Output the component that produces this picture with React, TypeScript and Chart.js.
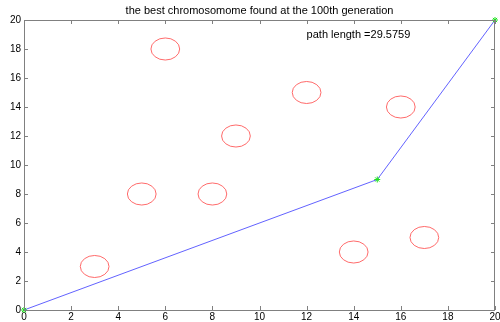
import { useEffect, useRef } from "react";
import { Chart, registerables } from "chart.js";
Chart.register(...registerables);

const TITLE = "the best chromosomome found at the 100th generation";
const PATH_LABEL = "path length =29.5759";
const labelX = 12;
const labelY = 19;
const pathX = [0, 15, 20];
const pathY = [0, 9, 20];
const obstacleX = [3, 5, 6, 8, 9, 12, 14, 16, 17];
const obstacleY = [3, 8, 18, 8, 12, 15, 4, 14, 5];
const obstacleRx = 0.61;
const obstacleRy = 0.76;
const axisMin = 0;
const axisMax = 20;
const tickStep = 2;

const FONT = "'Liberation Sans', Arial, Helvetica, sans-serif";
const AXIS_COLOR = "#808080";

export default function App() {
  const ref = useRef<HTMLCanvasElement>(null);
  useEffect(() => {
    document.body.style.margin = "0";
    const canvas = ref.current;
    if (!canvas) return;

    const decor = {
      id: "decor",
      beforeDatasetsDraw(chart: any) {
        const { ctx, scales } = chart;
        const xs = scales.x;
        const ys = scales.y;
        ctx.save();
        ctx.strokeStyle = "#ff5a5a";
        ctx.lineWidth = 0.9;
        for (let i = 0; i < obstacleX.length; i++) {
          const cx = xs.getPixelForValue(obstacleX[i]);
          const cy = ys.getPixelForValue(obstacleY[i]);
          const rx = Math.abs(xs.getPixelForValue(obstacleX[i] + obstacleRx) - cx);
          const ry = Math.abs(ys.getPixelForValue(obstacleY[i] + obstacleRy) - cy);
          ctx.beginPath();
          ctx.ellipse(cx, cy, rx, ry, 0, 0, Math.PI * 2);
          ctx.stroke();
        }
        ctx.restore();
      },
      afterDraw(chart: any) {
        const { ctx, chartArea, scales } = chart;
        const { left, right, top, bottom } = chartArea;
        const xs = scales.x;
        const ys = scales.y;
        ctx.save();
        ctx.strokeStyle = AXIS_COLOR;
        ctx.lineWidth = 1;
        ctx.strokeRect(left + 0.5, top + 0.5, right - left - 1, bottom - top);
        const tl = 4;
        ctx.beginPath();
        for (let v = axisMin; v <= axisMax; v += tickStep) {
          const px = Math.round(xs.getPixelForValue(v)) + 0.5;
          ctx.moveTo(px, bottom);
          ctx.lineTo(px, bottom - tl);
          ctx.moveTo(px, top);
          ctx.lineTo(px, top + tl);
          const py = Math.round(ys.getPixelForValue(v)) + 0.5;
          ctx.moveTo(left, py);
          ctx.lineTo(left + tl, py);
          ctx.moveTo(right, py);
          ctx.lineTo(right - tl, py);
        }
        ctx.stroke();
        ctx.fillStyle = "#000";
        ctx.font = `11px ${FONT}`;
        ctx.textAlign = "center";
        ctx.textBaseline = "middle";
        ctx.fillText(TITLE, (left + right) / 2, 11);
        ctx.textAlign = "left";
        ctx.fillText(PATH_LABEL, xs.getPixelForValue(labelX), ys.getPixelForValue(labelY));
        ctx.restore();
      },
    };

    const chart = new Chart(canvas, {
      type: "scatter",
      data: {
        datasets: [
          {
            data: pathX.map((x, i) => ({ x, y: pathY[i] })),
            showLine: true,
            borderColor: "#5050ff",
            borderWidth: 0.9,
            pointStyle: "star",
            pointRadius: 3,
            pointBorderColor: "#20e020",
            pointBackgroundColor: "#20e020",
            pointBorderWidth: 1,
            clip: false as any,
          } as any,
        ],
      },
      options: {
        animation: false,
        responsive: false,
        devicePixelRatio: 1,
        layout: { padding: { top: 20, right: 3, left: 0, bottom: 0 } },
        plugins: { legend: { display: false }, tooltip: { enabled: false }, title: { display: false } },
        scales: {
          x: {
            type: "linear",
            min: axisMin,
            max: axisMax,
            ticks: { stepSize: tickStep, color: "#000", font: { size: 10, family: FONT }, padding: 1, maxRotation: 0, autoSkip: false },
            grid: { display: false, drawTicks: false },
            border: { display: false },
            afterFit(s: any) {
              s.height = 12;
              s.paddingLeft = 0;
              s.paddingRight = 0;
            },
          },
          y: {
            type: "linear",
            min: axisMin,
            max: axisMax,
            ticks: { stepSize: tickStep, color: "#000", font: { size: 10, family: FONT }, padding: 3, autoSkip: false },
            grid: { display: false, drawTicks: false },
            border: { display: false },
            afterFit(s: any) {
              s.width = 24;
              s.paddingTop = 0;
              s.paddingBottom = 0;
            },
          },
        },
      },
      plugins: [decor],
    });
    return () => chart.destroy();
  }, []);
  return (
    <div style={{ position: "absolute", left: 0, top: 0, width: 500, height: 322 }}>
      <canvas ref={ref} width={500} height={322} style={{ display: "block" }} />
    </div>
  );
}
